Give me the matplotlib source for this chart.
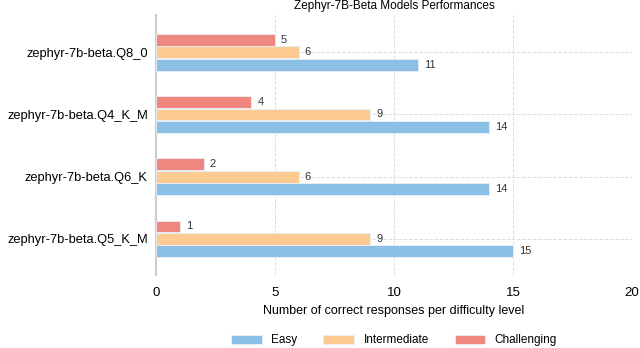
import numpy as np
import matplotlib.pyplot as plt

plt.rcParams['font.family'] = ['Liberation Sans', 'DejaVu Sans']

models = ["zephyr-7b-beta.Q8_0", "zephyr-7b-beta.Q4_K_M",
          "zephyr-7b-beta.Q6_K", "zephyr-7b-beta.Q5_K_M"]
easy = [11, 14, 14, 15]
intermediate = [6, 9, 6, 9]
challenging = [5, 4, 2, 1]

fig = plt.figure(figsize=(6.4, 3.48), dpi=100)
ax = fig.add_axes([0.244, 0.21, 0.7435, 0.747])

y = np.arange(len(models))[::-1].astype(float)
h = 0.19
off = 0.2

series = [(easy, -off, '#8bbfe5', 'Easy'),
          (intermediate, 0.0, '#fdcb91', 'Intermediate'),
          (challenging, off, '#f0877f', 'Challenging')]

for vals, o, col, lab in series:
    bars = ax.barh(y + o, vals, height=h, color=col, edgecolor='#e8f0f8',
                   linewidth=0.6, label=lab, zorder=3)
    for b, v in zip(bars, vals):
        ax.text(b.get_width() + 0.25, b.get_y() + b.get_height() / 2, str(v),
                va='center', ha='left', fontsize=8, color='#333333', zorder=4)

ax.set_xlim(0, 20)
ax.set_ylim(-0.58, 3.6)
ax.set_yticks(y)
ax.set_yticklabels(models, fontsize=9.3)
ax.set_xticks([0, 5, 10, 15, 20])
ax.tick_params(axis='x', labelsize=9.5, length=0, pad=9)
ax.tick_params(axis='y', length=0, pad=6)
ax.grid(True, linestyle='--', color='#dddddd', linewidth=0.7, zorder=0)
for s in ['top', 'right', 'bottom']:
    ax.spines[s].set_visible(False)
ax.spines['left'].set_color('#cccccc')
ax.spines['left'].set_linewidth(1.5)
ax.set_xlabel("Number of correct responses per difficulty level", fontsize=9, labelpad=4)
ax.set_title("Zephyr-7B-Beta Models Performances", fontsize=8.5, pad=4)

ax.legend(loc='center', bbox_to_anchor=(0.5, -0.252), ncol=3, frameon=False,
          fontsize=8.5, handlelength=2.6, handleheight=0.8, columnspacing=2.2)

fig.savefig('out.png', dpi=100)
